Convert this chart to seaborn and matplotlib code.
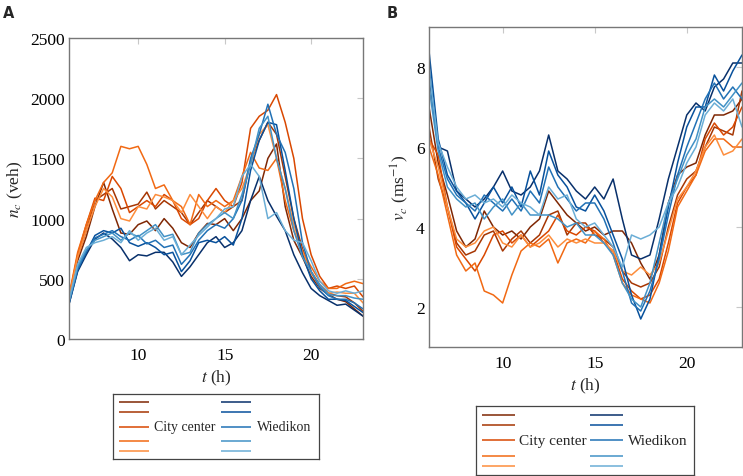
import numpy as np
import pandas as pd
import seaborn as sns
import matplotlib.pyplot as plt

# time axis (h), half-hour steps
t = np.arange(6, 23.01, 0.5)

# vehicle counts n_c (veh)
n_city = [
    [330, 650, 850, 1100, 1300, 1080, 880, 870, 950, 980, 900, 1000, 920, 800, 760, 880, 960, 950,
     1000, 900, 1000, 1150, 1230, 1500, 1620, 1100, 820, 680, 520, 420, 370, 330, 310, 250, 190],
    [340, 680, 900, 1150, 1200, 1250, 1080, 1100, 1120, 1220, 1080, 1150, 1100, 1050, 950, 1050, 1150, 1100,
     1050, 1100, 1150, 1480, 1650, 1800, 1700, 1350, 1000, 750, 560, 450, 380, 360, 350, 300, 230],
    [350, 700, 950, 1170, 1150, 1350, 1250, 1050, 1100, 1150, 1100, 1200, 1150, 1000, 950, 1000, 1150, 1250,
     1150, 1100, 1300, 1750, 1850, 1900, 2030, 1800, 1500, 1000, 700, 520, 420, 440, 420, 440, 350],
    [360, 720, 950, 1150, 1300, 1380, 1600, 1580, 1600, 1450, 1250, 1280, 1150, 1100, 950, 1200, 1100, 1150,
     1100, 1150, 1350, 1550, 1420, 1400, 1500, 1150, 900, 730, 600, 480, 420, 420, 460, 480, 460],
    [340, 680, 900, 1100, 1250, 1180, 1000, 980, 1100, 1080, 1200, 1180, 1150, 1050, 1200, 1100, 1000, 1100,
     1050, 1150, 1250, 1450, 1700, 1780, 1500, 1250, 950, 720, 550, 430, 380, 390, 380, 380, 300],
]
n_wied = [
    [290, 560, 700, 830, 880, 830, 760, 650, 700, 690, 720, 720, 640, 520, 600, 700, 800, 850,
     760, 800, 900, 1150, 1350, 1150, 1020, 900, 700, 550, 420, 360, 320, 280, 290, 240, 190],
    [290, 570, 720, 860, 900, 880, 920, 800, 770, 800, 760, 700, 720, 560, 650, 800, 820, 800,
     850, 780, 1000, 1400, 1650, 1800, 1780, 1400, 1000, 700, 500, 400, 330, 330, 320, 270, 220],
    [300, 580, 730, 840, 870, 900, 850, 820, 860, 790, 820, 760, 780, 620, 700, 820, 900, 950,
     920, 1000, 1150, 1500, 1700, 1950, 1700, 1550, 1250, 800, 560, 430, 360, 330, 330, 300, 250],
    [310, 600, 740, 820, 850, 880, 820, 880, 850, 900, 950, 850, 870, 700, 720, 880, 950, 1000,
     1050, 1000, 1200, 1450, 1750, 1850, 1500, 1250, 900, 680, 560, 450, 370, 360, 360, 340, 330],
    [320, 620, 760, 800, 820, 850, 800, 900, 820, 880, 920, 820, 850, 700, 780, 860, 930, 1000,
     1080, 1100, 1350, 1450, 1350, 1000, 1050, 900, 820, 800, 650, 480, 400, 380, 400, 380, 400],
]

# speeds v_c (m/s)
v_city = [
    [7.0, 5.6, 4.8, 3.9, 3.5, 3.7, 4.4, 4.0, 3.8, 3.9, 3.7, 4.0, 4.2, 4.9, 4.6, 4.3, 4.1, 3.9,
     4.0, 3.8, 3.9, 3.9, 3.6, 3.1, 2.7, 3.3, 4.6, 5.3, 5.5, 5.6, 6.3, 6.8, 6.8, 6.9, 7.2],
    [6.5, 5.2, 4.5, 3.6, 3.3, 3.4, 3.8, 3.9, 3.4, 3.7, 3.9, 3.6, 3.8, 4.3, 4.4, 3.8, 4.1, 4.1,
     3.8, 3.7, 3.5, 2.9, 2.6, 2.5, 2.6, 3.0, 4.0, 4.8, 5.2, 5.4, 6.0, 6.5, 6.4, 6.3, 7.4],
    [6.2, 5.8, 4.5, 3.5, 3.2, 2.9, 3.3, 3.8, 3.9, 3.6, 3.8, 3.5, 3.7, 3.9, 4.3, 3.9, 3.8, 4.0,
     3.9, 3.6, 3.4, 2.7, 2.4, 2.2, 2.3, 2.7, 3.6, 4.6, 5.0, 5.3, 6.2, 6.6, 6.3, 6.5, 7.0],
    [6.0, 5.3, 4.3, 3.3, 2.9, 3.1, 2.4, 2.3, 2.1, 2.8, 3.4, 3.6, 3.5, 3.7, 3.1, 3.6, 3.7, 3.6,
     3.9, 3.7, 3.3, 2.6, 2.3, 2.2, 2.1, 2.6, 3.4, 4.5, 4.9, 5.3, 5.9, 6.2, 6.2, 6.0, 6.0],
    [6.2, 5.5, 4.5, 3.7, 3.5, 3.6, 3.9, 4.0, 3.6, 3.5, 3.8, 3.5, 3.6, 3.8, 3.5, 3.7, 3.6, 3.7,
     3.6, 3.6, 3.4, 2.9, 2.8, 3.0, 2.8, 3.1, 3.9, 4.7, 5.0, 5.4, 6.0, 6.3, 5.8, 5.9, 6.2],
]
v_wied = [
    [7.8, 6.0, 5.9, 4.9, 4.7, 4.5, 4.7, 5.0, 5.4, 4.9, 4.8, 5.0, 5.4, 6.3, 5.4, 5.2, 4.9, 4.7,
     5.0, 4.7, 5.2, 4.2, 3.3, 3.2, 3.3, 4.2, 5.2, 6.0, 6.8, 7.1, 6.9, 7.5, 7.7, 8.1, 8.1],
    [8.4, 6.2, 5.3, 4.9, 4.6, 4.2, 4.6, 5.0, 4.6, 5.0, 4.5, 5.4, 4.8, 5.9, 5.3, 5.0, 4.5, 4.4,
     4.8, 4.4, 3.8, 3.2, 2.3, 1.7, 2.2, 3.3, 4.5, 5.6, 6.5, 7.0, 7.0, 7.8, 7.4, 7.9, 8.3],
    [8.0, 6.0, 5.2, 4.8, 4.6, 4.4, 4.8, 4.6, 4.4, 4.7, 4.4, 4.9, 4.6, 5.5, 5.0, 4.7, 4.4, 4.6,
     4.6, 4.2, 3.6, 2.9, 2.1, 1.9, 2.4, 3.2, 4.3, 5.3, 6.0, 6.6, 7.2, 7.6, 7.2, 7.5, 7.2],
    [7.5, 5.9, 5.0, 4.7, 4.5, 4.6, 4.2, 4.5, 4.7, 4.3, 4.6, 4.3, 4.3, 4.3, 4.2, 4.0, 4.1, 3.8,
     3.8, 3.6, 3.3, 2.6, 2.2, 2.0, 2.6, 3.6, 4.6, 5.2, 5.8, 6.2, 7.0, 7.2, 7.0, 7.3, 7.6],
    [7.9, 6.1, 5.5, 5.0, 4.7, 4.8, 4.6, 4.7, 4.5, 4.8, 4.6, 4.5, 4.3, 5.0, 4.7, 4.8, 4.2, 4.0,
     4.1, 3.8, 3.5, 3.0, 3.8, 3.7, 3.8, 4.0, 4.6, 5.0, 5.6, 6.0, 6.8, 7.1, 6.9, 7.2, 6.5],
]

city_colors = ["#7f2704", "#a63603", "#d94801", "#f16913", "#fd8d3c"]
wied_colors = ["#08306b", "#08519c", "#2171b5", "#4292c6", "#6baed6"]

W, H = 743, 477


def to_long(city, wied):
    rows = []
    for i, s in enumerate(city):
        rows.append(pd.DataFrame({"t": t, "val": s, "series": f"c{i}"}))
    for i, s in enumerate(wied):
        rows.append(pd.DataFrame({"t": t, "val": s, "series": f"w{i}"}))
    return pd.concat(rows, ignore_index=True)


def px_axes(x0, y0, x1, y1):
    # rectangle given in pixels from the top-left corner
    return fig.add_axes([x0 / W, 1 - y1 / H, (x1 - x0) / W, (y1 - y0) / H])


sns.set_style("white")
plt.rcParams["font.family"] = ["Liberation Serif", "DejaVu Serif"]
plt.rcParams["mathtext.fontset"] = "stix"

fig = plt.figure(figsize=(W / 100, H / 100), dpi=100)
axA = px_axes(69, 39, 363, 340)
axB = px_axes(429, 28, 742, 348)

palette = city_colors + wied_colors
sns.lineplot(data=to_long(n_city, n_wied), x="t", y="val", hue="series",
             palette=palette, ax=axA, legend=False, linewidth=1.1)
sns.lineplot(data=to_long(v_city, v_wied), x="t", y="val", hue="series",
             palette=palette, ax=axB, legend=False, linewidth=1.1)

axA.set_xlim(6, 23)
axA.set_ylim(0, 2500)
axA.set_yticks([0, 500, 1000, 1500, 2000, 2500])
axB.set_xlim(6, 23)
axB.set_ylim(1, 9)
axB.set_yticks([2, 4, 6, 8])

for ax in (axA, axB):
    ax.set_xticks([10, 15, 20])
    ax.tick_params(direction="in", length=4, color="#c8c8c8", top=True, right=True,
                   labelsize=12.5, labelcolor="black")
    ax.tick_params(axis="y", pad=3)
    ax.tick_params(axis="x", pad=6)
    for sp in ax.spines.values():
        sp.set_color("#777777")
        sp.set_linewidth(1.0)
    ax.set_xlabel("$t$ (h)", fontsize=12.5, labelpad=3)

axA.set_ylabel("$n_c$ (veh)", fontsize=12.5, labelpad=4)
axB.set_ylabel("$v_c$ (ms$^{-1}$)", fontsize=12.5, labelpad=4)

fig.text(3 / W, 1 - 6 / H, "A", fontsize=10.5, fontweight="bold", family="DejaVu Sans", va="top")
fig.text(387 / W, 1 - 6 / H, "B", fontsize=10.5, fontweight="bold", family="DejaVu Sans", va="top")


def draw_legend(box, rows, col1, col2, fs):
    x0, y0, x1, y1 = box
    lax = px_axes(x0, y0, x1, y1)
    lax.set_xlim(x0, x1)
    lax.set_ylim(y1, y0)
    lax.set_xticks([])
    lax.set_yticks([])
    for sp in lax.spines.values():
        sp.set_color("#444444")
        sp.set_linewidth(0.9)
    for cols, name in ((col1, "City center"), (col2, "Wiedikon")):
        xa, xb, xt, colors = cols
        for y, c in zip(rows, colors):
            lax.plot([xa, xb], [y, y], color=c, lw=1.1, solid_capstyle="butt")
        lax.text(xt, rows[2], name, fontsize=fs, va="center", ha="left")


draw_legend((113, 395, 319, 460), [403.3, 413.3, 427.7, 441.7, 451.7],
            (119, 149.5, 154, city_colors), (221, 251.5, 256.5, wied_colors), 10)
draw_legend((476, 407, 694, 476), [415.7, 426.3, 441.3, 457, 467.3],
            (482, 514.5, 519, city_colors), (590, 622.5, 628, wied_colors), 11)

fig.savefig("out.png", dpi=100)
